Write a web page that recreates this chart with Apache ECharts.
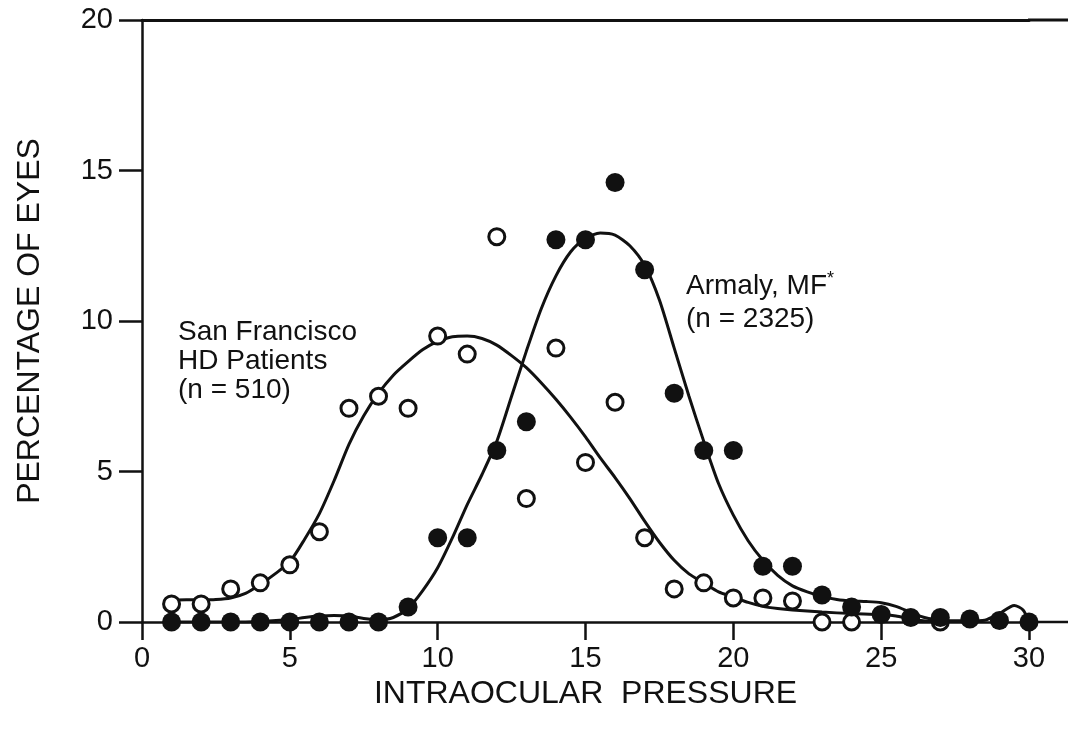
<!DOCTYPE html>
<html>
<head>
<meta charset="utf-8">
<script src="https://cdn.jsdelivr.net/npm/echarts@6/dist/echarts.min.js"></script>
<style>
  html, body { margin: 0; padding: 0; background: #fff; }
  #chart { width: 1068px; height: 730px; }
</style>
</head>
<body>
<div id="chart"></div>
<script>
// pressure values (x) for the plotted points
var pressure = [1,2,3,4,5,6,7,8,9,10,11,12,13,14,15,16,17,18,19,20,21,22,23,24,25,26,27,28,29,30];

// San Francisco HD patients (open circles), null where hidden
var sfPoints = [0.6,0.6,1.1,1.3,1.9,3.0,7.1,7.5,7.1,9.5,8.9,12.8,4.1,9.1,5.3,7.3,2.8,1.1,1.3,0.8,0.8,0.7,0,0,null,null,0,null,null,null];

// Armaly, MF (filled circles)
var armalyPoints = [0,0,0,0,0,0,0,0,0.5,2.8,2.8,5.7,6.65,12.7,12.7,14.6,11.7,7.6,5.7,5.7,1.85,1.85,0.9,0.5,0.25,0.15,0.15,0.1,0.05,0];

// fitted curves
var sfCurveX = [1,1.5,2,2.5,3,3.5,4,4.5,5,5.5,6,6.5,7,7.5,8,8.5,9,9.5,10,10.5,11,11.5,12,12.5,13,13.5,14,14.5,15,15.5,16,16.5,17,17.5,18,18.5,19,19.5,20,20.5,21,21.5,22,23,24,25,25.5,26,26.5,27];
var sfCurveY = [0.73,0.74,0.74,0.75,0.8,0.95,1.25,1.6,2.0,2.75,3.6,4.7,5.9,6.85,7.6,8.2,8.65,9.05,9.32,9.48,9.5,9.42,9.2,8.85,8.45,7.95,7.4,6.8,6.15,5.45,4.8,4.1,3.35,2.65,2.05,1.6,1.3,1.0,0.83,0.65,0.52,0.45,0.4,0.33,0.28,0.25,0.2,0.1,0.03,0];

var amCurveX = [1,2,3,4,5,5.5,6,6.5,7,7.5,8,8.5,9,9.5,10,10.5,11,11.5,12,12.5,13,13.5,14,14.5,15,15.5,16,16.5,17,17.5,18,18.5,19,19.5,20,20.5,21,21.5,22,22.5,23,23.5,24,24.5,25,25.5,26,26.5,27,27.5,28,28.5,29,29.5,29.8,30];
var amCurveY = [0,0,0,0.02,0.08,0.15,0.2,0.22,0.2,0.12,0.08,0.15,0.45,1.05,1.8,2.8,3.9,4.9,6.0,7.5,9.0,10.4,11.5,12.3,12.75,12.92,12.85,12.5,11.85,10.7,9.1,7.5,6.0,4.6,3.55,2.7,2.05,1.55,1.2,1.0,0.85,0.75,0.7,0.68,0.64,0.52,0.32,0.14,0.06,0.04,0.04,0.06,0.28,0.55,0.4,0];

function pairs(xs, ys) {
    var out = [];
    for (var i = 0; i < xs.length; i++) {
        if (ys[i] !== null) out.push([xs[i], ys[i]]);
    }
    return out;
}

var FONT = 'Liberation Sans';
var INK = '#111';

var chart = echarts.init(document.getElementById('chart'));

var option = {
    backgroundColor: '#fff',
    animation: false,
    grid: { left: 142, right: 39, top: 20, bottom: 108 },
    xAxis: [{
        type: 'value',
        min: 0, max: 30, interval: 5,
        name: 'INTRAOCULAR  PRESSURE',
        nameLocation: 'middle',
        nameGap: 54,
        nameTextStyle: { fontFamily: FONT, fontSize: 32, color: INK },
        axisLine: { lineStyle: { color: INK, width: 2.5 } },
        axisTick: { length: 18, lineStyle: { color: INK, width: 2.5 } },
        axisLabel: { fontFamily: FONT, fontSize: 29, color: INK, margin: 22 },
        splitLine: { show: false }
    }, {
        type: 'value',
        position: 'top',
        min: 0, max: 30,
        axisLine: { show: true, onZero: false, lineStyle: { color: INK, width: 3 } },
        axisTick: { show: false },
        axisLabel: { show: false },
        splitLine: { show: false }
    }],
    yAxis: {
        type: 'value',
        min: 0, max: 20, interval: 5,
        name: 'PERCENTAGE OF EYES',
        nameLocation: 'middle',
        nameGap: 96,
        nameTextStyle: { fontFamily: FONT, fontSize: 32, color: INK },
        axisLine: { show: true, lineStyle: { color: INK, width: 2.5 } },
        axisTick: { show: true, length: 23, lineStyle: { color: INK, width: 2.5 } },
        axisLabel: { fontFamily: FONT, fontSize: 29, color: INK, margin: 29 },
        splitLine: { show: false }
    },
    graphic: [
        { type: 'line', shape: { x1: 1028, y1: 20, x2: 1068, y2: 20 }, style: { stroke: INK, lineWidth: 3 } },
        { type: 'line', shape: { x1: 1028, y1: 622, x2: 1068, y2: 622 }, style: { stroke: INK, lineWidth: 2.5 } },
        {
            type: 'text', left: 178, top: 318,
            style: {
                text: 'San Francisco\nHD Patients\n(n = 510)',
                font: '28px "Liberation Sans"', fill: INK, lineHeight: 29
            }
        },
        {
            type: 'text', left: 686, top: 270,
            style: {
                text: 'Armaly, MF{s|*}\n(n = 2325)',
                font: '28px "Liberation Sans"', fill: INK, lineHeight: 33,
                rich: { s: { fontSize: 18, verticalAlign: 'top', fill: INK, fontFamily: FONT, padding: [0, 0, 12, 0] } }
            }
        }
    ],
    series: [{
        type: 'line',
        data: pairs(sfCurveX, sfCurveY),
        smooth: 0.25,
        showSymbol: false,
        lineStyle: { color: INK, width: 3 },
        z: 2
    }, {
        type: 'line',
        data: pairs(amCurveX, amCurveY),
        smooth: 0.25,
        showSymbol: false,
        lineStyle: { color: INK, width: 3 },
        z: 2
    }, {
        type: 'scatter',
        data: pairs(pressure, sfPoints),
        symbol: 'circle',
        symbolSize: 16,
        itemStyle: { color: '#fff', borderColor: INK, borderWidth: 3, opacity: 1 },
        z: 3
    }, {
        type: 'scatter',
        data: pairs(pressure, armalyPoints),
        symbol: 'circle',
        symbolSize: 19,
        itemStyle: { color: INK, opacity: 1 },
        z: 4
    }]
};

chart.setOption(option);
</script>
</body>
</html>
